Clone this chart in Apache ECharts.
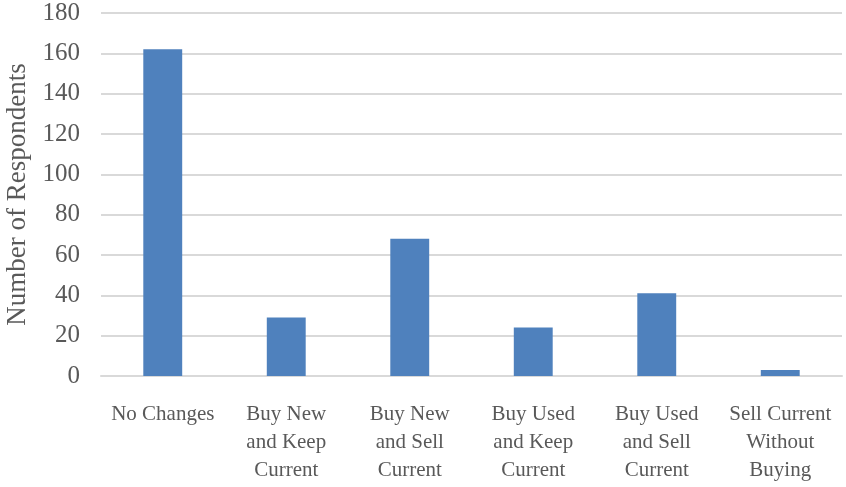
<!DOCTYPE html>
<html>
<head>
<meta charset="utf-8">
<script src="https://cdn.jsdelivr.net/npm/echarts@6/dist/echarts.min.js"></script>
<style>
  html, body { margin: 0; padding: 0; background: #fff; }
  #chart { width: 846px; height: 487px; }
</style>
</head>
<body>
<div id="chart"></div>
<script>
  // categories and values
  const categories = [
    'No Changes',
    'Buy New\nand Keep\nCurrent',
    'Buy New\nand Sell\nCurrent',
    'Buy Used\nand Keep\nCurrent',
    'Buy Used\nand Sell\nCurrent',
    'Sell Current\nWithout\nBuying'
  ];
  const respondents = [162, 29, 68, 24, 41, 3];
  const yName = 'Number of Respondents';

  const font = '"Liberation Serif", "DejaVu Serif", serif';
  const textColor = '#595959';

  const myChart = echarts.init(document.getElementById('chart'));
  const option = {
    animation: false,
    grid: {
      left: 101,
      right: 4,
      top: 13,
      bottom: 111,
      outerBoundsMode: 'none'
    },
    xAxis: {
      type: 'category',
      data: categories,
      axisTick: { show: false },
      axisLine: { lineStyle: { color: '#d9d9d9', width: 2 } },
      axisLabel: {
        interval: 0,
        color: textColor,
        fontFamily: font,
        fontSize: 21,
        lineHeight: 28,
        margin: 24
      }
    },
    yAxis: {
      type: 'value',
      min: 0,
      max: 180,
      interval: 20,
      name: yName,
      nameLocation: 'middle',
      nameGap: 62,
      nameTextStyle: {
        color: textColor,
        fontFamily: font,
        fontSize: 27
      },
      axisLine: { show: false },
      axisTick: { show: false },
      splitLine: { lineStyle: { color: '#d9d9d9', width: 2 } },
      axisLabel: {
        color: textColor,
        fontFamily: font,
        fontSize: 25,
        margin: 21
      }
    },
    series: [
      {
        type: 'bar',
        data: respondents,
        barWidth: '31.5%',
        itemStyle: { color: '#4f81bd' }
      }
    ]
  };
  myChart.setOption(option, true);
</script>
</body>
</html>
